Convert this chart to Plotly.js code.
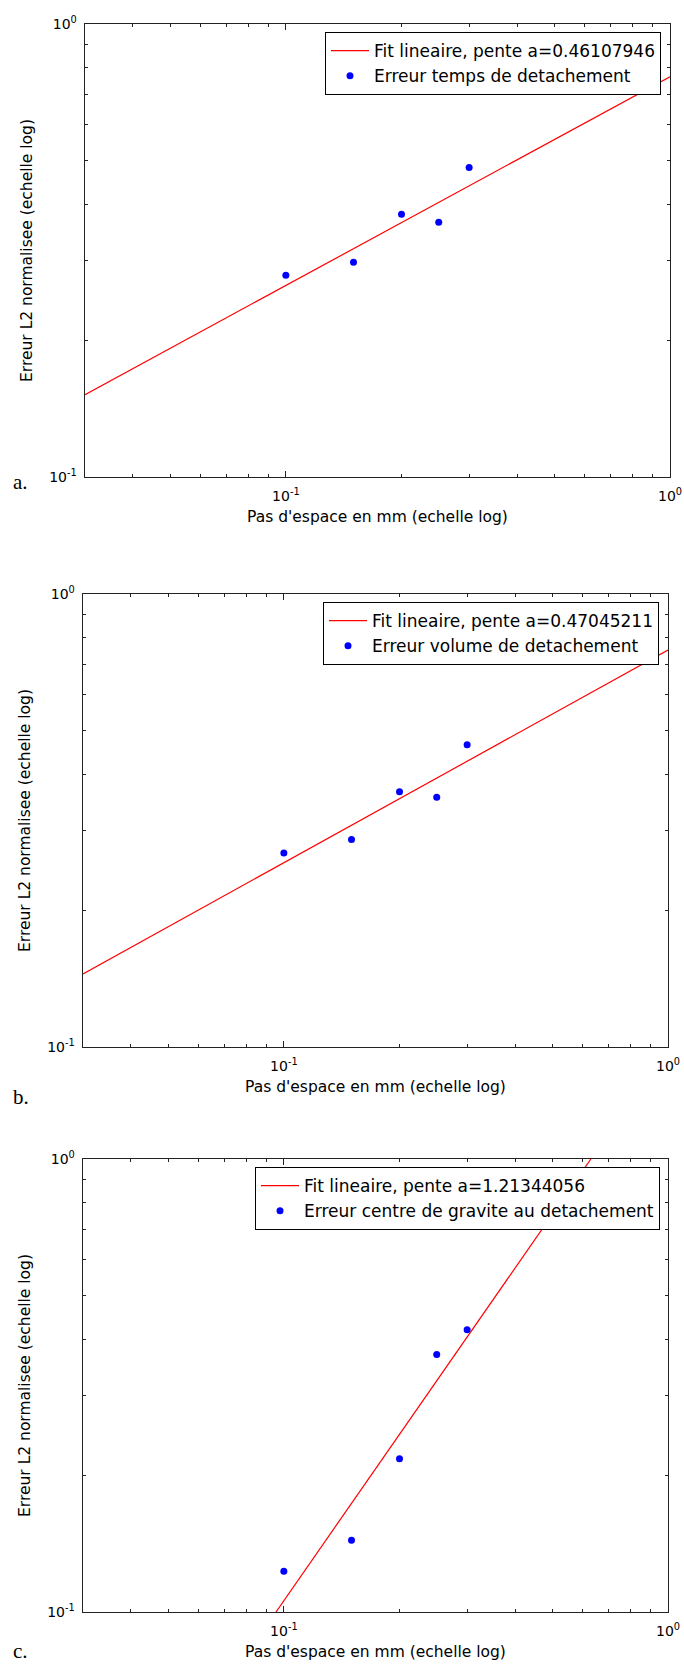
<!DOCTYPE html>
<html>
<head>
<meta charset="utf-8">
<script src="https://cdn.plot.ly/plotly-3.0.1.min.js"></script>
<style>
html,body{margin:0;padding:0;background:#fff;}
#chart{width:684px;height:1666px;}
</style>
</head>
<body>
<div id="chart"></div>
<script>
// ---- data ----
const pasEspace = [0.1, 0.15, 0.2, 0.25, 0.3];
const errTemps = [0.279, 0.298, 0.380, 0.365, 0.482];
const errVolume = [0.268, 0.287, 0.366, 0.356, 0.465];
const errCentre = [0.123, 0.144, 0.218, 0.370, 0.420];

const fitXab = [0.03, 1.0];
const fitTemps = [0.152, 0.765];
const fitVolume = [0.145, 0.752];
const fitXc = [0.0954, 0.63];
const fitCentre = [0.1, 1.0];

const penteTemps = "0.46107946";
const penteVolume = "0.47045211";
const penteCentre = "1.21344056";

const nomsErreurs = ["Erreur temps de detachement", "Erreur volume de detachement", "Erreur centre de gravite au detachement"];
const panelLetters = ["a.", "b.", "c."];

const majorTickVals = [0.1, 1];
const majorTickText = ["10<sup>-1</sup>", "10<sup>0</sup>"];
const minorTickX = [0.04, 0.05, 0.06, 0.07, 0.08, 0.09, 0.2, 0.3, 0.4, 0.5, 0.6, 0.7, 0.8, 0.9];
const minorTickY = [0.2, 0.3, 0.4, 0.5, 0.6, 0.7, 0.8, 0.9];

const xTitle = "Pas d'espace en mm (echelle log)";
const yTitle = "Erreur L2 normalisee (echelle log)";

// ---- layout geometry (pixels) ----
const W = 684, H = 1666;
const panels = [
  {x0: 85, x1: 670, y0: 24, y1: 477, leg: {right: 661, top: 32}, letter: {x: 11, y: 482}},
  {x0: 83, x1: 668, y0: 594, y1: 1047, leg: {right: 659, top: 602}, letter: {x: 11, y: 1097}},
  {x0: 83, x1: 668, y0: 1159, y1: 1612, leg: {right: 660, top: 1167}, letter: {x: 11, y: 1651}}
];

const FONT = "DejaVu Sans";
const fitX = [fitXab, fitXab, fitXc];
const fitY = [fitTemps, fitVolume, fitCentre];
const errY = [errTemps, errVolume, errCentre];
const pentes = [penteTemps, penteVolume, penteCentre];

const data = [];
const layout = {
  width: W, height: H,
  margin: {l: 0, r: 0, t: 0, b: 0},
  paper_bgcolor: '#fff', plot_bgcolor: '#fff',
  font: {family: FONT, color: '#000'},
  showlegend: true,
  annotations: []
};

panels.forEach((p, i) => {
  const n = i === 0 ? '' : String(i + 1);
  const legName = 'legend' + n;
  data.push({
    type: 'scatter', mode: 'lines',
    x: fitX[i], y: fitY[i],
    xaxis: 'x' + n, yaxis: 'y' + n,
    line: {color: '#ff0000', width: 1.2},
    name: 'Fit lineaire, pente a=' + pentes[i],
    legend: legName, cliponaxis: true
  });
  data.push({
    type: 'scatter', mode: 'markers',
    x: pasEspace, y: errY[i],
    xaxis: 'x' + n, yaxis: 'y' + n,
    marker: {color: '#0000ff', size: 7, line: {width: 0}},
    name: nomsErreurs[i],
    legend: legName
  });
  const axCommon = {
    type: 'log', showgrid: false, zeroline: false,
    showline: true, linecolor: '#222', linewidth: 1.4, mirror: 'allticks',
    ticks: 'inside', ticklen: 6, tickwidth: 1, tickcolor: '#222',
    tickmode: 'array', tickvals: majorTickVals, ticktext: majorTickText,
    tickfont: {family: FONT, size: 14, color: '#000'},
    fixedrange: true
  };
  layout['xaxis' + n] = Object.assign({}, axCommon, {
    domain: [p.x0 / W, p.x1 / W],
    range: [Math.log10(0.03), 0],
    anchor: 'y' + n,
    minor: {tickmode: 'array', tickvals: minorTickX, ticks: 'inside', ticklen: 3, tickcolor: '#222', showgrid: false},
    title: {text: xTitle, font: {family: FONT, size: 15.5, color: '#000'}, standoff: 8},
    ticklabelstandoff: 6
  });
  layout['yaxis' + n] = Object.assign({}, axCommon, {
    domain: [1 - p.y1 / H, 1 - p.y0 / H],
    range: [-1, 0],
    anchor: 'x' + n,
    minor: {tickmode: 'array', tickvals: minorTickY, ticks: 'inside', ticklen: 3, tickcolor: '#222', showgrid: false},
    title: {text: yTitle, font: {family: FONT, size: 15.5, color: '#000'}, standoff: 12},
    ticklabelstandoff: 4
  });
  layout[legName] = {
    x: p.leg.right / W, y: 1 - p.leg.top / H,
    xanchor: 'right', yanchor: 'top',
    bgcolor: '#fff', bordercolor: '#000', borderwidth: 1,
    font: {family: FONT, size: 17, color: '#000'},
    itemwidth: 38,
    traceorder: 'normal'
  };
  layout.annotations.push({
    text: panelLetters[i], xref: 'paper', yref: 'paper',
    x: p.letter.x / W, y: 1 - p.letter.y / H,
    xanchor: 'left', yanchor: 'middle', showarrow: false,
    font: {family: 'Liberation Serif', size: 21, color: '#000'}
  });
});

Plotly.newPlot('chart', data, layout, {staticPlot: true, displayModeBar: false});
</script>
</body>
</html>
